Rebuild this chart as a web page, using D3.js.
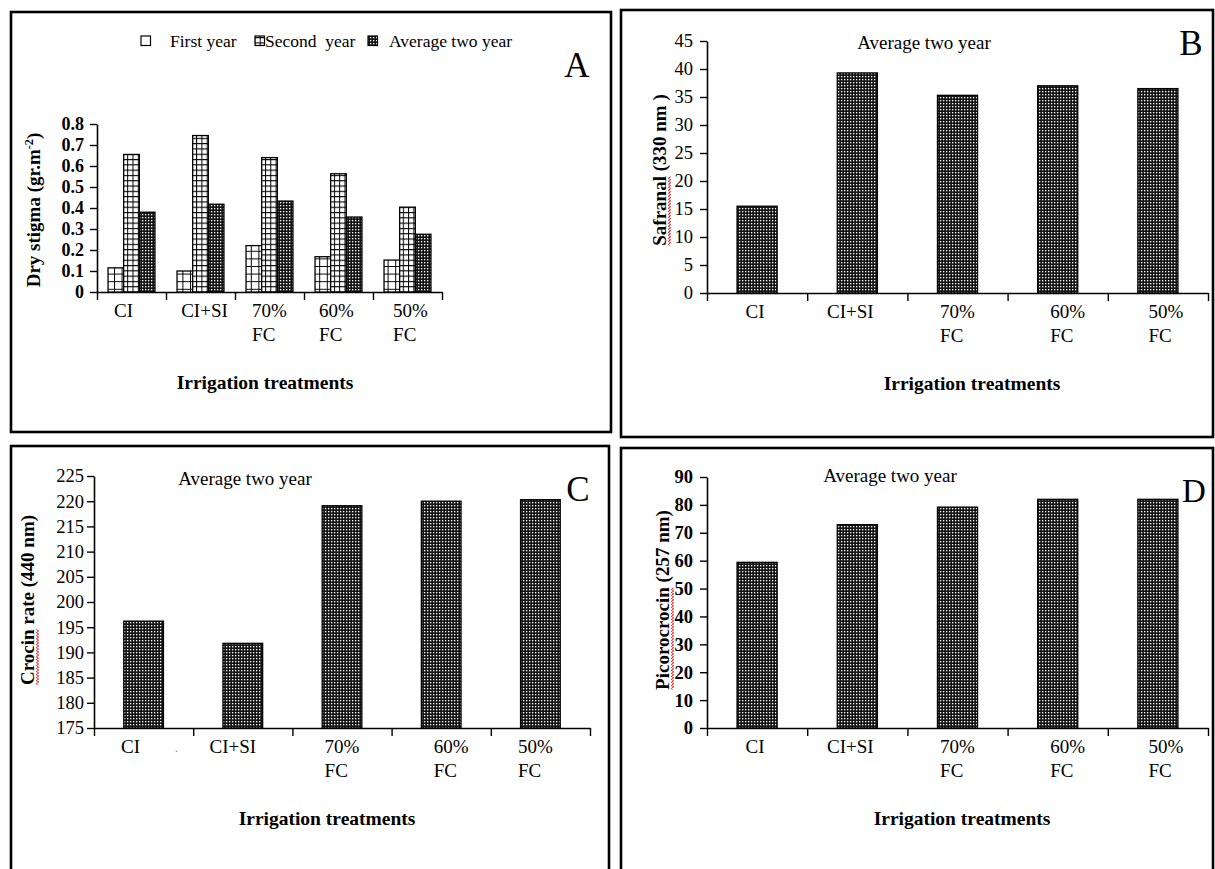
<!DOCTYPE html>
<html><head><meta charset="utf-8">
<script src="https://cdn.jsdelivr.net/npm/d3@7"></script>
<style>
body{margin:0;background:#fff}
svg{display:block}
text{font-family:"Liberation Serif","Times New Roman",serif;fill:#000}
</style>
</head><body>
<svg id="chart" width="1215" height="869"></svg>
<script>
// ---------- data ----------
const categories = ["CI", "CI+SI", "70% FC", "60% FC", "50% FC"];
const seriesNames = ["First year", "Second  year", "Average two year"];

const dryStigmaFirst  = [0.115, 0.100, 0.221, 0.168, 0.152];
const dryStigmaSecond = [0.655, 0.745, 0.640, 0.563, 0.404];
const dryStigmaAvg    = [0.380, 0.418, 0.433, 0.357, 0.275];

const safranal    = [15.5, 39.3, 35.3, 37.0, 36.5];
const crocin      = [196.2, 191.8, 219.1, 220.0, 220.3];
const picrocrocin = [59.4, 72.9, 79.2, 82.0, 82.0];

const ticksA = [0, 0.1, 0.2, 0.3, 0.4, 0.5, 0.6, 0.7, 0.8];
const tickLabelsA = ["0", "0.1", "0.2", "0.3", "0.4", "0.5", "0.6", "0.7", "0.8"];
const ticksB = [0, 5, 10, 15, 20, 25, 30, 35, 40, 45];
const tickLabelsB = ["0", "5", "10", "15", "20", "25", "30", "35", "40", "45"];
const ticksC = [175, 180, 185, 190, 195, 200, 205, 210, 215, 220, 225];
const tickLabelsC = ["175", "180", "185", "190", "195", "200", "205", "210", "215", "220", "225"];
const ticksD = [0, 10, 20, 30, 40, 50, 60, 70, 80, 90];
const tickLabelsD = ["0", "10", "20", "30", "40", "50", "60", "70", "80", "90"];

const xTitle = "Irrigation treatments";
const subTitle = "Average two year";

// ---------- drawing ----------
const FONT = '"Liberation Serif","Times New Roman",serif';
const svg = d3.select("#chart");
const defs = svg.append("defs");

// stipple (average)
const pDots = defs.append("pattern").attr("id", "dots").attr("patternUnits", "userSpaceOnUse")
  .attr("width", 3).attr("height", 3);
pDots.append("rect").attr("width", 3).attr("height", 3).attr("fill", "#151515");
pDots.append("rect").attr("x", 1).attr("y", 1).attr("width", 1.3).attr("height", 1.3).attr("fill", "#fff");

// small grid (second year)
const gs = 5.3;
const pGridS = defs.append("pattern").attr("id", "gridS").attr("patternUnits", "userSpaceOnUse")
  .attr("width", gs).attr("height", gs);
pGridS.append("rect").attr("width", gs).attr("height", gs).attr("fill", "#fff");
pGridS.append("path").attr("d", `M0,0.5H${gs}M0.5,0V${gs}`).attr("stroke", "#000").attr("stroke-width", 1);

// large grid (first year)
const gl = 7.6;
const pGridL = defs.append("pattern").attr("id", "gridL").attr("patternUnits", "userSpaceOnUse")
  .attr("width", gl).attr("height", gl);
pGridL.append("rect").attr("width", gl).attr("height", gl).attr("fill", "#fff");
pGridL.append("path").attr("d", `M0,0.5H${gl}M0.5,0V${gl}`).attr("stroke", "#000").attr("stroke-width", 1);

const fills = ["url(#gridL)", "url(#gridS)", "url(#dots)"];

function frame(x, y, w, h) {
  svg.append("rect").attr("x", x).attr("y", y).attr("width", w).attr("height", h)
    .attr("fill", "none").attr("stroke", "#000").attr("stroke-width", 2.6);
}

function wavy(g, x0, x1, y) {
  let d = `M${x0},${y}`;
  let up = true;
  for (let x = x0 + 1.5; x <= x1; x += 1.5) { d += `L${x},${y + (up ? -1.3 : 1.3)}`; up = !up; }
  g.append("path").attr("d", d).attr("fill", "none").attr("stroke", "#d42020").attr("stroke-width", 0.9);
}

function yLabel(cx, cy, parts, size, wavyIdx) {
  const g = svg.append("g").attr("transform", `translate(${cx},${cy}) rotate(-90)`);
  const t = g.append("text").attr("text-anchor", "middle").attr("font-weight", "bold")
    .attr("font-size", size);
  parts.forEach(p => {
    const ts = t.append("tspan").text(p.t);
    if (p.sup) ts.attr("baseline-shift", "super").attr("font-size", size * 0.65);
  });
  if (wavyIdx != null) {
    const total = t.node().getComputedTextLength();
    const wlen = t.node().getSubStringLength(0, parts[0].t.trim().length);
    const x0 = -total / 2;
    wavy(g, x0, x0 + wlen, 3.5);
  }
}

function panel(o) {
  const y = d3.scaleLinear().domain([o.ticks[0], o.ticks[o.ticks.length - 1]]).range([o.y0, o.y1]);
  const x = d3.scaleBand().domain(categories).range([o.x0, o.x1])
    .paddingInner(o.pIn).paddingOuter(o.pOut);
  const step = x.step();
  const edge = d3.scaleLinear().domain([0, 5]).range([o.x0, o.x0 + 5 * step]);

  // y axis
  const ya = svg.append("g").attr("transform", `translate(${o.x0},0)`)
    .call(d3.axisLeft(y).tickValues(o.ticks).tickFormat((d, i) => o.tickLabels[i])
      .tickSize(7).tickSizeOuter(0).tickPadding(o.tickPad));
  ya.attr("font-family", FONT);
  ya.select(".domain").attr("stroke", "#000").attr("stroke-width", 1.6);
  ya.selectAll(".tick line").attr("stroke", "#000").attr("stroke-width", 1.4);
  ya.selectAll(".tick text").attr("font-family", FONT)
    .attr("font-size", o.tickSize).attr("font-weight", o.tickBold ? "bold" : "normal").attr("fill", "#000");

  // x axis (tick marks at band edges)
  const xa = svg.append("g").attr("transform", `translate(0,${o.y0})`)
    .call(d3.axisBottom(edge).tickValues(d3.range(6)).tickFormat("").tickSize(8).tickSizeOuter(0));
  xa.select(".domain").attr("stroke", "#000").attr("stroke-width", 1.6);
  xa.selectAll(".tick line").attr("stroke", "#000").attr("stroke-width", 1.4);

  // bars
  if (o.groups) {
    const sub = d3.scaleBand().domain(d3.range(o.groups.length)).range([0, x.bandwidth()]);
    o.groups.forEach((vals, si) => {
      svg.append("g").selectAll("rect").data(vals).join("rect")
        .attr("x", (d, i) => x(categories[i]) + sub(si))
        .attr("y", d => y(d))
        .attr("width", sub.bandwidth())
        .attr("height", d => y(o.ticks[0]) - y(d))
        .attr("fill", fills[si]).attr("stroke", "#000").attr("stroke-width", 1.3);
    });
  } else {
    svg.append("g").selectAll("rect").data(o.values).join("rect")
      .attr("x", (d, i) => x(categories[i]))
      .attr("y", d => y(d))
      .attr("width", x.bandwidth())
      .attr("height", d => y(o.ticks[0]) - y(d))
      .attr("fill", "url(#dots)").attr("stroke", "#000").attr("stroke-width", 1.3);
  }

  // category labels
  categories.forEach((c, i) => {
    const lines = c.split(" ");
    const cx = edge(i + 0.5) + (o.labelShift ? o.labelShift[i] : 0);
    const t = svg.append("text").attr("font-size", 19);
    lines.forEach((l, li) => t.append("tspan").attr("y", o.y0 + 25 + li * 24).text(l));
    const w = t.select("tspan").node().getComputedTextLength();
    t.selectAll("tspan").attr("x", cx - w / 2);
  });

  // x title
  svg.append("text").attr("x", o.xtX).attr("y", o.y0 + 97).attr("text-anchor", "middle")
    .attr("font-weight", "bold").attr("font-size", 19.5).text(xTitle);
}

// ---------- Panel A ----------
frame(11, 12, 600, 420);
panel({x0: 97, x1: 442, y0: 292, y1: 124, pIn: 0.32, pOut: 0.16,
  ticks: ticksA, tickLabels: tickLabelsA, tickSize: 18, tickBold: true, tickPad: 6,
  groups: [dryStigmaFirst, dryStigmaSecond, dryStigmaAvg], xtX: 265,
  labelShift: [-8, 4, 0, -2, 3]});
yLabel(40, 210, [{t: "Dry stigma (gr.m"}, {t: "-2", sup: true}, {t: ")"}], 19, null);
svg.append("text").attr("x", 577).attr("y", 77).attr("text-anchor", "middle").attr("font-size", 35).text("A");

// legend A
const legX = [141, 255, 368];
const legTX = [170, 265, 389];
seriesNames.forEach((s, i) => {
  svg.append("rect").attr("x", legX[i]).attr("y", 36).attr("width", 9.5).attr("height", 9.5)
    .attr("fill", i === 0 ? "#fff" : fills[i]).attr("stroke", "#000").attr("stroke-width", 1.2);
  svg.append("text").attr("x", legTX[i]).attr("y", 46.5).attr("font-size", 17.5)
    .attr("xml:space", "preserve").style("white-space", "pre").text(s);
});

// ---------- Panel B ----------
frame(621, 10, 592, 427);
panel({x0: 707, x1: 1208, y0: 293, y1: 41, pIn: 0.6, pOut: 0.3,
  ticks: ticksB, tickLabels: tickLabelsB, tickSize: 18.5, tickBold: false, tickPad: 7,
  values: safranal, xtX: 972, labelShift: [-2, -7, 0, 10, 8]});
yLabel(666, 170, [{t: "Safranal "}, {t: "(330 nm )"}], 19, 0);
svg.append("text").attr("x", 924).attr("y", 49).attr("text-anchor", "middle").attr("font-size", 19).text(subTitle);
svg.append("text").attr("x", 1191).attr("y", 55).attr("text-anchor", "middle").attr("font-size", 35).text("B");

// ---------- Panel C ----------
frame(11, 446, 598, 432);
panel({x0: 94, x1: 590, y0: 728, y1: 476, pIn: 0.6, pOut: 0.3,
  ticks: ticksC, tickLabels: tickLabelsC, tickSize: 18.5, tickBold: false, tickPad: 3,
  values: crocin, xtX: 327, labelShift: [-13, -10, 0, 10, -5]});
yLabel(34, 600, [{t: "Crocin "}, {t: "rate (440 nm)"}], 19, 0);
svg.append("text").attr("x", 245).attr("y", 485).attr("text-anchor", "middle").attr("font-size", 19).text(subTitle);
svg.append("text").attr("x", 578).attr("y", 501).attr("text-anchor", "middle").attr("font-size", 35).text("C");
svg.append("text").attr("x", 175).attr("y", 752).attr("font-size", 12).style("fill", "#3aa0a0").text(".");

// ---------- Panel D ----------
frame(621, 448, 592, 430);
panel({x0: 707, x1: 1208, y0: 728, y1: 477, pIn: 0.6, pOut: 0.3,
  ticks: ticksD, tickLabels: tickLabelsD, tickSize: 18.5, tickBold: true, tickPad: 7,
  values: picrocrocin, xtX: 962, labelShift: [-2, -7, 0, 10, 8]});
yLabel(669, 600, [{t: "Picorocrocin "}, {t: "(257 nm)"}], 19, 0);
svg.append("text").attr("x", 890).attr("y", 482).attr("text-anchor", "middle").attr("font-size", 19).text(subTitle);
svg.append("text").attr("x", 1194).attr("y", 502).attr("text-anchor", "middle").attr("font-size", 33).text("D");
</script>
</body></html>
